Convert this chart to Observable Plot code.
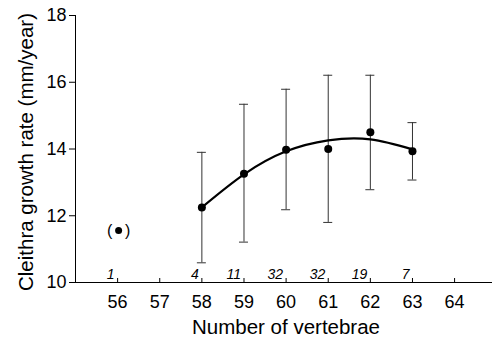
<!DOCTYPE html>
<html>
<head>
<meta charset="utf-8">
<script src="https://cdn.jsdelivr.net/npm/d3@7"></script>
<script src="https://cdn.jsdelivr.net/npm/@observablehq/plot@0.6"></script>
<style>
  html, body { margin: 0; padding: 0; background: #fff; }
  svg { font-family: "Liberation Sans", Arial, sans-serif; }
</style>
</head>
<body>
<div id="chart"></div>
<script>
// Vertebrae counts with mean growth rate and error-bar ends
const vertebrae = [58, 59, 60, 61, 62, 63];
const meanRate  = [12.25, 13.26, 13.98, 14.0, 14.5, 13.93];
const upperBar  = [13.9, 15.34, 15.79, 16.21, 16.21, 14.79];
const lowerBar  = [10.59, 11.21, 12.18, 11.8, 12.78, 13.07];

// Single-fish outlier (shown in parentheses)
const outlierX = [56];
const outlierY = [11.56];

// Sample sizes shown above the x axis
const countX = [56, 58, 59, 60, 61, 62, 63];
const countN = [1, 4, 11, 32, 32, 19, 7];

// Fitted curve
const fitX = [58, 59, 60, 61, 62, 63];
const fitY = [12.25, 13.24, 13.93, 14.26, 14.29, 13.99];

// Tick labels
const xTicks = [56, 57, 58, 59, 60, 61, 62, 63, 64];
const yTicks = [10, 12, 14, 16, 18];

const points = vertebrae.map((v, i) => ({x: v, y: meanRate[i], hi: upperBar[i], lo: lowerBar[i]}));
const outliers = outlierX.map((v, i) => ({x: v, y: outlierY[i]}));
const counts = countX.map((v, i) => ({x: v, n: countN[i]}));
const fit = fitX.map((v, i) => ({x: v, y: fitY[i]}));

const barColor = "#333";

const chart = Plot.plot({
  width: 492,
  height: 348,
  marginLeft: 75,
  marginRight: 0,
  marginTop: 15,
  marginBottom: 66,
  x: {domain: [55, 64.9]},
  y: {domain: [10, 18]},
  marks: [
    // axis lines
    Plot.ruleX([55], {y1: 10, y2: 18, stroke: "black", strokeWidth: 1}),
    Plot.ruleY([10], {stroke: "black", strokeWidth: 1}),
    // inward x ticks
    Plot.ruleX(xTicks, {x: d => d, y1: 10, y2: 10, insetTop: -4, stroke: "black"}),
    // outward y ticks
    Plot.ruleY(yTicks, {y: d => d, x1: 55, x2: 55, insetLeft: -6, stroke: "black"}),
    Plot.axisX({ticks: xTicks, tickSize: 0, tickPadding: 13, fontSize: 18, label: null, tickFormat: d => String(d)}),
    Plot.axisY({ticks: yTicks, tickSize: 0, tickPadding: 9, fontSize: 18, label: null, tickFormat: d => String(d)}),
    // axis titles
    Plot.text(["Number of vertebrae"], {frameAnchor: "bottom", dx: 2, dy: 51, fontSize: 20.5, fill: "black", textAnchor: "middle"}),
    Plot.text(["Cleithra growth rate (mm/year)"], {frameAnchor: "left", dx: -49, dy: 3, rotate: -90, fontSize: 20.5, fill: "black", textAnchor: "middle"}),
    // error bars
    Plot.ruleX(points, {x: "x", y1: "lo", y2: "hi", stroke: barColor, strokeWidth: 1}),
    Plot.ruleY(points, {y: "hi", x1: "x", x2: "x", insetLeft: -4.5, insetRight: -4.5, stroke: barColor, strokeWidth: 1}),
    Plot.ruleY(points, {y: "lo", x1: "x", x2: "x", insetLeft: -4.5, insetRight: -4.5, stroke: barColor, strokeWidth: 1}),
    // fitted curve
    Plot.line(fit, {x: "x", y: "y", curve: "natural", stroke: "black", strokeWidth: 2.2}),
    // means
    Plot.dot(points, {x: "x", y: "y", r: 4, fill: "black", stroke: "none"}),
    // outlier in parentheses
    Plot.dot(outliers, {x: "x", y: "y", r: 3.5, dx: 1, fill: "black", stroke: "none"}),
    Plot.text(outliers, {x: "x", y: "y", text: () => "(", dx: -8, fontSize: 16, fill: "black"}),
    Plot.text(outliers, {x: "x", y: "y", text: () => ")", dx: 10, fontSize: 16, fill: "black"}),
    // sample sizes
    Plot.text(counts, {x: "x", y: () => 10, text: d => String(d.n), textAnchor: "end", lineAnchor: "bottom", dx: -3, dy: -4, fontSize: 14, fontStyle: "italic", fill: "black"})
  ]
});
document.getElementById("chart").appendChild(chart);
</script>
</body>
</html>
